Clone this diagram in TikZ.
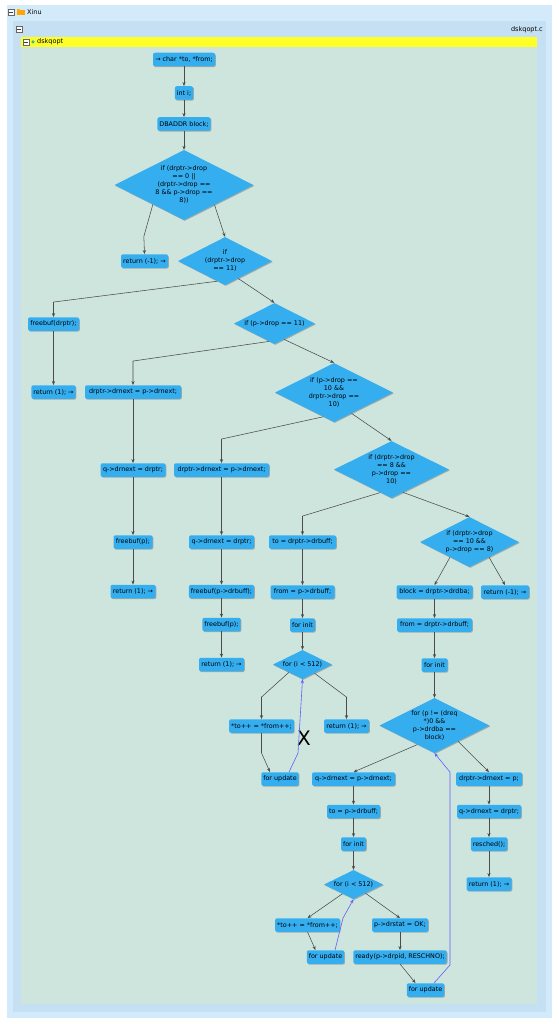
\documentclass[tikz,border=0pt]{standalone}
\usepackage{fontspec}
\setmainfont{DejaVu Sans}
\usetikzlibrary{shapes.geometric,arrows.meta,shadows,calc}
\definecolor{nodeblue}{RGB}{53,174,240}
\definecolor{bggreen}{RGB}{205,229,220}
\definecolor{panelA}{RGB}{210,234,250}
\definecolor{panelB}{RGB}{196,224,242}
\definecolor{hyellow}{RGB}{255,255,40}
\definecolor{edgegrey}{RGB}{75,75,75}
\definecolor{backblue}{RGB}{95,95,250}
\definecolor{dotgreen}{RGB}{60,185,140}
\newcommand{\dtxt}[1]{\makebox[0pt]{\smash{\raisebox{-1.6pt}{\begin{tabular}[c]{@{}c@{}}#1\end{tabular}}}}}
\tikzset{
  shad/.style={drop shadow={shadow xshift=0.8pt, shadow yshift=-0.9pt, fill=black!60, opacity=0.45}},
  box/.style={rectangle, rounded corners=2pt, fill=nodeblue, minimum height=13.5pt, inner xsep=2pt, inner ysep=0pt, font=\fontsize{6.4}{7.5}\selectfont, shad},
  dia/.style={diamond, fill=nodeblue, inner sep=0pt, font=\fontsize{6.4}{8}\selectfont, shad},
  arr/.style={draw=edgegrey, line width=0.55pt, -{Stealth[length=4pt,width=3.2pt]}},
  back/.style={draw=backblue, line width=0.6pt, -{Stealth[length=4pt,width=3.2pt]}},
  minbox/.style={draw=black!60, fill=white, line width=0.3pt, minimum size=6pt, inner sep=0pt,
    path picture={\draw[line width=0.6pt, black!75] ([xshift=1.3pt]path picture bounding box.west) -- ([xshift=-1.3pt]path picture bounding box.east);}},
  head/.style={font=\fontsize{6.5}{7.5}\selectfont, inner sep=0pt}
}
\begin{document}
\begin{tikzpicture}[x=1pt,y=-1pt]
\useasboundingbox (0,0) rectangle (558,1024);
% panels
\fill[white] (0,0) rectangle (558,1024);
\fill[panelA] (7,5) rectangle (552,1018);
\fill[panelB] (13,21) rectangle (546,1012);
\fill[hyellow] (21,37) rectangle (537,47);
\fill[bggreen] (21,47) rectangle (537,1004);
% header items
\node[minbox] (m1) at (11,12) {};
\fill[orange!70!yellow] (16.5,10) rectangle (24.5,15.5);
\fill[orange!55!yellow] (16.5,9) rectangle (20,10.5);
\node[head, anchor=west] (xinu) at (27,12) {Xinu};
\node[minbox] (m2) at (19,29) {};
\node[head, anchor=east] (file) at (543,30) {dskqopt.c};
\node[minbox] (m3) at (26,42) {};
\node[circle, fill=dotgreen, minimum size=3.5pt, inner sep=0pt] (gd) at (33,42) {};
\node[head, anchor=west] (fn) at (37,42) {dskqopt};

% nodes
\node[box, minimum width=62pt] (n1) at (184,59.5) {→ char *to, *from;};
\node[box, minimum width=17pt] (n2) at (184,93) {int i;};
\node[box, minimum width=51pt] (n3) at (184,124) {DBADDR block;};
\node[dia, minimum width=139pt, minimum height=70pt] (d1) at (184,185) {\dtxt{if (drptr->drop\\== 0 ||\\(drptr->drop ==\\8 \&\& p->drop ==\\8))}};
\node[box, minimum width=47pt] (ret1) at (144.5,261) {return (-1); →};
\node[dia, minimum width=94pt, minimum height=48pt] (d2) at (225,261) {\dtxt{if\\(drptr->drop\\== 11)}};
\node[box, minimum width=51pt] (free1) at (53.5,324) {freebuf(drptr);};
\node[box, minimum width=44pt] (ret2) at (53.5,392) {return (1); →};
\node[dia, minimum width=81pt, minimum height=41pt] (d3) at (274.5,323.5) {\dtxt{if (p->drop == 11)}};
\node[box, minimum width=96pt] (n10) at (133,392) {drptr->drnext = p->drnext;};
\node[dia, minimum width=118pt, minimum height=59pt] (d4) at (334,392.5) {\dtxt{if (p->drop ==\\10 \&\&\\drptr->drop ==\\10)}};
\node[box, minimum width=95pt] (n12) at (221.5,470) {drptr->drnext = p->drnext;};
\node[box, minimum width=65pt] (n13) at (133,470) {q->drnext = drptr;};
\node[dia, minimum width=115pt, minimum height=57pt] (d5) at (391.5,469.5) {\dtxt{if (drptr->drop\\== 8 \&\&\\p->drop ==\\10)}};
\node[box, minimum width=39pt] (n15) at (133,542) {freebuf(p);};
\node[box, minimum width=65pt] (n16) at (221.5,542) {q->drnext = drptr;};
\node[box, minimum width=67pt] (n17) at (302.5,542) {to = drptr->drbuff;};
\node[dia, minimum width=99pt, minimum height=50pt] (d6) at (469.5,542) {\dtxt{if (drptr->drop\\== 10 \&\&\\p->drop == 8)}};
\node[box, minimum width=45pt] (n19) at (133,591.5) {return (1); →};
\node[box, minimum width=65pt] (n20) at (221.5,591.5) {freebuf(p->drbuff);};
\node[box, minimum width=64pt] (n21) at (302.5,592) {from = p->drbuff;};
\node[box, minimum width=76pt] (n22) at (434.5,592) {block = drptr->drdba;};
\node[box, minimum width=48pt] (n23) at (505,592) {return (-1); →};
\node[box, minimum width=38pt] (n24) at (221.5,624.5) {freebuf(p);};
\node[box, minimum width=25pt] (n25) at (302.5,625) {for init};
\node[box, minimum width=75pt] (n26) at (434.5,625) {from = drptr->drbuff;};
\node[box, minimum width=45pt] (n27) at (221.5,664.5) {return (1); →};
\node[dia, minimum width=59pt, minimum height=29pt] (d7) at (302.5,664.5) {\dtxt{for (i < 512)}};
\node[box, minimum width=26pt] (n29) at (434.5,665) {for init};
\node[box, minimum width=63pt] (n30) at (261.5,726) {*to++ = *from++;};
\node[box, minimum width=45pt] (n31) at (346.5,726) {return (1); →};
\node[dia, minimum width=110pt, minimum height=55pt] (d8) at (434.5,725.5) {\dtxt{for (p != (dreq\\{}*)0 \&\&\\p->drdba ==\\block)}};
\node[font=\fontsize{20}{20}\selectfont, inner sep=0pt] (X) at (304,738) {X};
\node[box, minimum width=36pt] (fu1) at (280,779) {for update};
\node[box, minimum width=83pt] (n35) at (353.5,779) {q->drnext = p->drnext;};
\node[box, minimum width=66pt] (n36) at (489,779) {drptr->drnext = p;};
\node[box, minimum width=53pt] (n37) at (353.5,811.5) {to = p->drbuff;};
\node[box, minimum width=64pt] (n38) at (489,811.5) {q->drnext = drptr;};
\node[box, minimum width=24pt] (n39) at (353.5,844) {for init};
\node[box, minimum width=34pt] (n40) at (489,844) {resched();};
\node[dia, minimum width=59pt, minimum height=29pt] (d9) at (353.5,884.5) {\dtxt{for (i < 512)}};
\node[box, minimum width=45pt] (n42) at (489,884) {return (1); →};
\node[box, minimum width=63pt] (n43) at (307.5,925) {*to++ = *from++;};
\node[box, minimum width=56pt] (n44) at (400,925) {p->drstat = OK;};
\node[box, minimum width=37pt] (fu2) at (325.5,957) {for update};
\node[box, minimum width=92pt] (n46) at (400,957) {ready(p->drpid, RESCHNO);};
\node[box, minimum width=37pt] (fu3) at (425.5,990) {for update};

% connectors
\draw[arr] (n1.south) -- (n2.north);
\draw[arr] (n2.south) -- (n3.north);
\draw[arr] (n3.south) -- (d1.north);
\draw[arr] (d1.212) -- ++(-9,32) -- (ret1.north);
\draw[arr] (d1.327) -- (d2.north);
\draw[arr] (d2.249) -- ($(free1.north)+(0,-15)$) -- (free1.north);
\draw[arr] (d2.307) -- (d3.north);
\draw[arr] (free1.south) -- (ret2.north);
\draw[arr] (d3.253) -- ($(n10.north)+(0,-24)$) -- (n10.north);
\draw[arr] (d3.301) -- (d4.north);
\draw[arr] (n10.south) -- (n13.north);
\draw[arr] (d4.246) -- ($(n12.north)+(0,-24)$) -- (n12.north);
\draw[arr] (d4.310) -- (d5.north);
\draw[arr] (n13.south) -- (n15.north);
\draw[arr] (n12.south) -- (n16.north);
\draw[arr] (d5.244) -- ($(n17.north)+(0,-19)$) -- (n17.north);
\draw[arr] (d5.297) -- (d6.north);
\draw[arr] (n15.south) -- (n19.north);
\draw[arr] (n16.south) -- (n20.north);
\draw[arr] (n17.south) -- (n21.north);
\draw[arr] (d6.218) -- (n22.north);
\draw[arr] (d6.322) -- (n23.north);
\draw[arr] (n20.south) -- (n24.north);
\draw[arr] (n21.south) -- (n25.north);
\draw[arr] (n22.south) -- (n26.north);
\draw[arr] (n24.south) -- (n27.north);
\draw[arr] (n25.south) -- (d7.north);
\draw[arr] (n26.south) -- (n29.north);
\draw[arr] (d7.210) -- ($(n30.north)+(0,-22)$) -- (n30.north);
\draw[arr] (d7.324) -- ($(n31.north)+(0,-22)$) -- (n31.north);
\draw[arr] (n29.south) -- (d8.north);
\draw[arr] (n30.south) -- ++(0,20) -- ($(fu1.north)+(-10,0)$);
\draw[back] ($(fu1.north)+(9,0)$) -- ++(9,-19) -- (d7.south);
\draw[arr] (d8.228) -- (n35.north);
\draw[arr] (d8.326) -- (n36.north);
\draw[arr] (n35.south) -- (n37.north);
\draw[arr] (n36.south) -- (n38.north);
\draw[arr] (n37.south) -- (n39.north);
\draw[arr] (n38.south) -- (n40.north);
\draw[arr] (n39.south) -- (d9.north);
\draw[arr] (n40.south) -- (n42.north);
\draw[arr] (d9.220) -- (n43.north);
\draw[arr] (d9.324) -- (n44.north);
\draw[arr] (n43.south) -- ($(fu2.north)+(-10,0)$);
\draw[back] ($(fu2.north)+(9.5,0)$) -- ++(8,-32) -- (d9.south);
\draw[arr] (n44.south) -- (n46.north);
\draw[arr] (n46.south) -- ($(fu3.north)+(-10,0)$);
\draw[back] ($(fu3.north)+(8.5,0)$) -- ++(16,-18) -- ++(0,-193) -- (d8.south);
\end{tikzpicture}
\end{document}
